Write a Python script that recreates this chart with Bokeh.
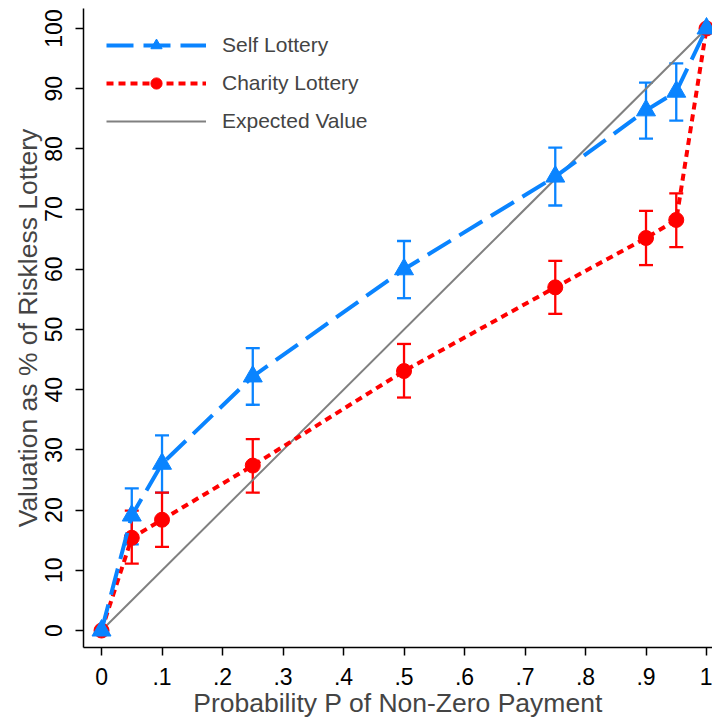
from bokeh.plotting import figure
from bokeh.models import ColumnDataSource, Whisker, TeeHead, FixedTicker, Legend, LegendItem, Range1d
from bokeh.embed import file_html
from bokeh.resources import INLINE

# ---- data ----
prob = [0, 0.05, 0.1, 0.25, 0.5, 0.75, 0.9, 0.95, 1]
self_val = [0, 19.1, 27.7, 42.2, 60.0, 75.4, 86.4, 89.5, 100]
self_lo = [0, 14.3, 22.9, 37.5, 55.2, 70.6, 81.7, 84.7, 100]
self_hi = [0, 23.6, 32.4, 46.9, 64.7, 80.2, 91.0, 94.2, 100]
char_val = [0, 15.4, 18.4, 27.4, 43.1, 57.0, 65.2, 68.2, 100]
char_lo = [0, 11.1, 13.9, 22.9, 38.7, 52.6, 60.7, 63.7, 100]
char_hi = [0, 19.9, 22.9, 31.8, 47.6, 61.4, 69.7, 72.6, 100]
ev_x = [0, 1]
ev_y = [0, 100]
x_ticks = [0, 0.1, 0.2, 0.3, 0.4, 0.5, 0.6, 0.7, 0.8, 0.9, 1]
x_tick_labels = ["0", ".1", ".2", ".3", ".4", ".5", ".6", ".7", ".8", ".9", "1"]
y_ticks = [0, 10, 20, 30, 40, 50, 60, 70, 80, 90, 100]

BLUE = "#0a84ff"
RED = "#ff0000"
GRAY = "#808080"
FONT = "Liberation Sans"

p = figure(width=712, height=720, output_backend="svg", toolbar_location=None,
           x_range=Range1d(-0.0298, 1.0099), y_range=Range1d(-2.82, 103.32),
           min_border_left=83, min_border_right=0, min_border_top=8, min_border_bottom=72)
p.outline_line_color = None
p.grid.visible = False
p.background_fill_color = "white"

src_self = ColumnDataSource(dict(x=prob, y=self_val, lo=self_lo, hi=self_hi))
src_char = ColumnDataSource(dict(x=prob, y=char_val, lo=char_lo, hi=char_hi))

ev = p.line(ev_x, ev_y, line_color=GRAY, line_width=2)

for src, col in ((src_self, BLUE), (src_char, RED)):
    w = Whisker(source=src, base="x", lower="lo", upper="hi", line_color=col, line_width=2.3,
                upper_head=TeeHead(size=14, line_color=col, line_width=2.3),
                lower_head=TeeHead(size=14, line_color=col, line_width=2.3))
    p.add_layout(w)

cl = p.line("x", "y", source=src_char, line_color=RED, line_width=4, line_dash="7 5")
cm = p.scatter("x", "y", source=src_char, marker="circle", size=15, fill_color=RED, line_color=RED)
sl = p.line("x", "y", source=src_self, line_color=BLUE, line_width=4, line_dash="27 10")
sm = p.scatter("x", "y", source=src_self, marker="triangle", size=19, fill_color=BLUE, line_color=BLUE)

legend = Legend(items=[
    LegendItem(label="Self Lottery", renderers=[sl, sm]),
    LegendItem(label="Charity Lottery", renderers=[cl, cm]),
    LegendItem(label="Expected Value", renderers=[ev]),
], location="top_left", margin=23, padding=0, glyph_width=100, glyph_height=28,
   spacing=10, label_standoff=16, label_text_font=FONT, label_text_font_size="21px",
   border_line_color=None, background_fill_alpha=0)
p.add_layout(legend)

for ax in (p.xaxis[0], p.yaxis[0]):
    ax.axis_line_width = 1.5
    ax.axis_line_color = "black"
    ax.major_tick_line_width = 1.5
    ax.major_tick_in = 0
    ax.major_tick_out = 8
    ax.minor_tick_line_color = None
    ax.major_label_text_font = FONT
    ax.major_label_text_font_size = "23px"
    ax.axis_label_text_font = FONT
    ax.axis_label_text_font_size = "26.5px"
    ax.axis_label_text_font_style = "normal"
    ax.major_label_text_color = "black"

p.xaxis.ticker = FixedTicker(ticks=x_ticks)
p.xaxis.major_label_overrides = dict(zip(x_ticks, x_tick_labels))
p.xaxis.axis_label = "Probability P of Non-Zero Payment"
p.xaxis.major_label_standoff = 12
p.xaxis.axis_label_standoff = 0

p.yaxis.ticker = FixedTicker(ticks=y_ticks)
p.yaxis.axis_label = "Valuation as % of Riskless Lottery"
p.yaxis.major_label_orientation = "vertical"
p.yaxis.major_label_standoff = 13
p.yaxis.axis_label_standoff = 0

open("out.html", "w").write(file_html(p, INLINE))
